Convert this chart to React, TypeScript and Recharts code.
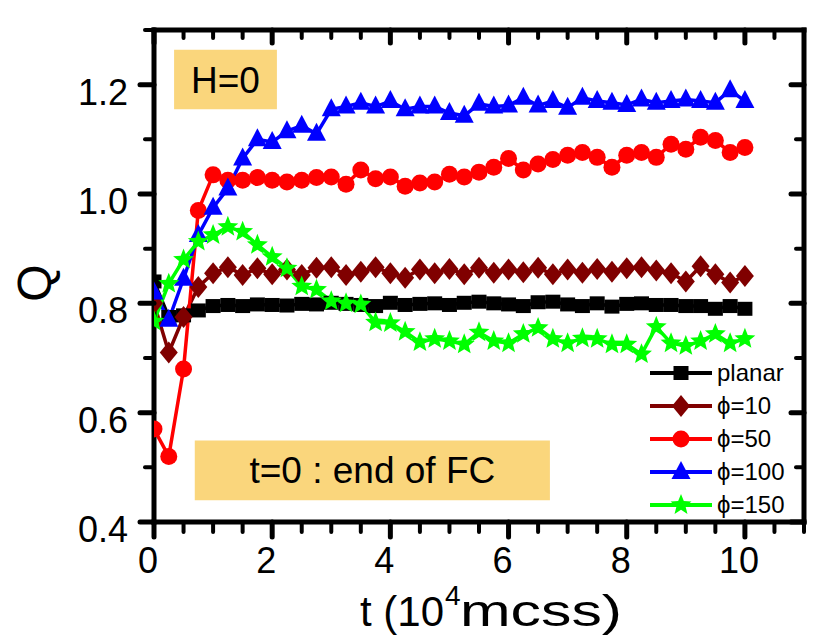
import { Label, Legend, Line, LineChart, ReferenceArea, XAxis, YAxis } from "recharts"

const FONT = '"Liberation Sans", Arial, sans-serif'

// time in units of 10^4 mcss
const tValues = [
  0, 0.25, 0.5, 0.75, 1, 1.25, 1.5, 1.75, 2, 2.25, 2.5, 2.75, 3, 3.25, 3.5, 3.75, 4, 4.25, 4.5, 4.75, 5,
  5.25, 5.5, 5.75, 6, 6.25, 6.5, 6.75, 7, 7.25, 7.5, 7.75, 8, 8.25, 8.5, 8.75, 9, 9.25, 9.5, 9.75, 10,
]

const planar = [
  0.84, 0.775, 0.778, 0.787, 0.795, 0.797, 0.795, 0.798, 0.797, 0.796, 0.799, 0.798, 0.801, 0.799, 0.797,
  0.795, 0.801, 0.797, 0.799, 0.8, 0.797, 0.801, 0.803, 0.8, 0.798, 0.795, 0.802, 0.803, 0.798, 0.795, 0.8,
  0.794, 0.799, 0.8, 0.797, 0.797, 0.795, 0.795, 0.79, 0.795, 0.79,
]
const phi10 = [
  0.8, 0.71, 0.775, 0.83, 0.855, 0.866, 0.852, 0.864, 0.853, 0.862, 0.852, 0.865, 0.866, 0.852, 0.858,
  0.866, 0.855, 0.847, 0.862, 0.855, 0.863, 0.853, 0.865, 0.856, 0.862, 0.857, 0.865, 0.853, 0.862, 0.856,
  0.863, 0.858, 0.864, 0.866, 0.86, 0.855, 0.84, 0.868, 0.853, 0.838, 0.85,
]
const phi50 = [
  0.57, 0.52, 0.68, 0.97, 1.035, 1.025, 1.025, 1.03, 1.025, 1.022, 1.025, 1.03, 1.031, 1.018, 1.044, 1.028,
  1.031, 1.014, 1.02, 1.022, 1.036, 1.031, 1.04, 1.049, 1.065, 1.044, 1.055, 1.063, 1.071, 1.076, 1.067,
  1.049, 1.071, 1.076, 1.067, 1.091, 1.082, 1.104, 1.098, 1.076, 1.085,
]
const phi100 = [
  0.82, 0.77, 0.845, 0.925, 0.975, 1.01, 1.065, 1.1, 1.095, 1.115, 1.125, 1.11, 1.155, 1.16, 1.167, 1.16,
  1.17, 1.155, 1.16, 1.16, 1.148, 1.143, 1.165, 1.16, 1.162, 1.176, 1.162, 1.17, 1.158, 1.176, 1.17, 1.167,
  1.163, 1.173, 1.167, 1.17, 1.173, 1.17, 1.167, 1.19, 1.17,
]
const phi150 = [
  0.767, 0.836, 0.88, 0.913, 0.925, 0.94, 0.931, 0.907, 0.885, 0.864, 0.831, 0.825, 0.804, 0.8, 0.798,
  0.765, 0.764, 0.748, 0.729, 0.735, 0.731, 0.725, 0.747, 0.731, 0.727, 0.744, 0.755, 0.735, 0.727, 0.736,
  0.735, 0.725, 0.725, 0.707, 0.757, 0.727, 0.722, 0.731, 0.744, 0.727, 0.735,
]

const xTicks = [0, 0.5, 1, 1.5, 2, 2.5, 3, 3.5, 4, 4.5, 5, 5.5, 6, 6.5, 7, 7.5, 8, 8.5, 9, 9.5, 10, 10.5, 11]
const xMajor = [0, 2, 4, 6, 8, 10]
const yTicks = [0.4, 0.5, 0.6, 0.7, 0.8, 0.9, 1.0, 1.1, 1.2, 1.3]
const yMajor = [0.4, 0.6, 0.8, 1.0, 1.2]

type Shape = "square" | "diamond" | "circle" | "triangle" | "star"

const series: { key: string; name: string; color: string; shape: Shape }[] = [
  { key: "planar", name: "planar", color: "#000000", shape: "square" },
  { key: "phi10", name: "ϕ=10", color: "#800000", shape: "diamond" },
  { key: "phi50", name: "ϕ=50", color: "#ff0000", shape: "circle" },
  { key: "phi100", name: "ϕ=100", color: "#0000ff", shape: "triangle" },
  { key: "phi150", name: "ϕ=150", color: "#00ff00", shape: "star" },
]

const data = tValues.map((t, i) => ({
  t,
  planar: planar[i],
  phi10: phi10[i],
  phi50: phi50[i],
  phi100: phi100[i],
  phi150: phi150[i],
}))

function isMajor(v: number, list: number[]) {
  return list.some((m) => Math.abs(m - v) < 1e-6)
}

function Marker({ shape, cx, cy, color }: { shape: Shape; cx: number; cy: number; color: string }) {
  if (cx == null || cy == null) return null
  if (shape === "square") return <rect x={cx - 7.5} y={cy - 7} width={15} height={14} fill={color} />
  if (shape === "diamond")
    return <polygon points={`${cx},${cy - 11} ${cx + 9},${cy} ${cx},${cy + 11} ${cx - 9},${cy}`} fill={color} />
  if (shape === "circle") return <circle cx={cx} cy={cy} r={8.5} fill={color} />
  if (shape === "triangle")
    return <polygon points={`${cx},${cy - 11} ${cx + 9.5},${cy + 7} ${cx - 9.5},${cy + 7}`} fill={color} />
  const pts: string[] = []
  for (let k = 0; k < 10; k++) {
    const r = k % 2 === 0 ? 11 : 4.8
    const a = -Math.PI / 2 + (k * Math.PI) / 5
    pts.push(`${cx + r * Math.cos(a)},${cy + r * Math.sin(a)}`)
  }
  return <polygon points={pts.join(" ")} fill={color} />
}

function BottomTick(props: any) {
  const { x, y, payload } = props
  const major = isMajor(payload.value, xMajor)
  return (
    <g>
      <line x1={x} x2={x} y1={y} y2={y + (major ? 15 : 10)} stroke="#000" strokeWidth={major ? 5 : 4} strokeLinecap="round" />
      {major && (
        <text x={x - 6} y={y + 51} textAnchor="middle" fontSize={36} fontFamily={FONT} fill="#000">
          {payload.value}
        </text>
      )}
    </g>
  )
}

function TopTick(props: any) {
  const { x, y, payload } = props
  const major = isMajor(payload.value, xMajor)
  return <line x1={x} x2={x} y1={y} y2={y + (major ? 13 : 8)} stroke="#000" strokeWidth={major ? 5 : 4} strokeLinecap="round" />
}

function LeftTick(props: any) {
  const { x, y, payload } = props
  const major = isMajor(payload.value, yMajor)
  return (
    <g>
      <line x1={x} x2={x - (major ? 14 : 9)} y1={y} y2={y} stroke="#000" strokeWidth={major ? 5 : 4} strokeLinecap="round" />
      {major && (
        <text x={x - 26} y={y + 20} textAnchor="end" fontSize={36} fontFamily={FONT} fill="#000">
          {Number(payload.value).toFixed(1)}
        </text>
      )}
    </g>
  )
}

function RightTick(props: any) {
  const { x, y, payload } = props
  const major = isMajor(payload.value, yMajor)
  return <line x1={x} x2={x - (major ? 13 : 8)} y1={y} y2={y} stroke="#000" strokeWidth={major ? 5 : 4} strokeLinecap="round" />
}

function LegendBox() {
  return (
    <svg width={170} height={170}>
      {series.map((s, i) => {
        const cy = 16 + i * 33
        return (
          <g key={s.key}>
            <line x1={0} x2={62} y1={cy} y2={cy} stroke={s.color} strokeWidth={4} />
            <Marker shape={s.shape} cx={31} cy={cy} color={s.color} />
            <text x={67} y={cy + 8} fontSize={24} fontFamily={FONT} fill="#000">
              {s.name}
            </text>
          </g>
        )
      })}
    </svg>
  )
}

const frame = { stroke: "#000", strokeWidth: 5, strokeLinecap: "square" as const }

export default function App() {
  return (
    <LineChart width={814} height={627} data={data} margin={{ top: 21, right: 17, bottom: 0, left: 0 }}>
      <XAxis
        dataKey="t"
        type="number"
        domain={[0, 11]}
        allowDataOverflow
        ticks={xTicks}
        interval={0}
        height={113}
        tickSize={0}
        tickMargin={0}
        axisLine={frame}
        tickLine={false}
        tick={BottomTick}
        label={
          <Label
            content={() => (
              <g fontFamily={FONT} fill="#000">
                <text x={352} y={618} fontSize={42}>
                  t (10
                </text>
                <text x={437} y={597} fontSize={28}>
                  4
                </text>
                <text x={452} y={618} fontSize={44} textLength={162} lengthAdjust="spacingAndGlyphs">
                  mcss)
                </text>
              </g>
            )}
          />
        }
      />
      <XAxis
        xAxisId="top"
        dataKey="t"
        orientation="top"
        type="number"
        domain={[0, 11]}
        allowDataOverflow
        ticks={xTicks}
        interval={0}
        height={1}
        tickSize={0}
        tickMargin={0}
        axisLine={frame}
        tickLine={false}
        tick={TopTick}
      />
      <YAxis
        type="number"
        domain={[0.4, 1.3]}
        allowDataOverflow
        ticks={yTicks}
        interval={0}
        width={146}
        tickSize={0}
        tickMargin={0}
        axisLine={frame}
        tickLine={false}
        tick={LeftTick}
        label={
          <Label
            content={() => (
              <text
                x={26}
                y={275}
                transform="rotate(-90, 26, 275)"
                textAnchor="middle"
                dominantBaseline="central"
                fontSize={48}
                fontFamily={FONT}
                fill="#000"
              >
                Q
              </text>
            )}
          />
        }
      />
      <YAxis
        yAxisId="right"
        orientation="right"
        type="number"
        domain={[0.4, 1.3]}
        allowDataOverflow
        ticks={yTicks}
        interval={0}
        width={1}
        tickSize={0}
        tickMargin={0}
        axisLine={frame}
        tickLine={false}
        tick={RightTick}
      />
      <ReferenceArea
        x1={0.34}
        x2={2.08}
        y1={1.155}
        y2={1.264}
        fill="#fad67c"
        fillOpacity={1}
        stroke="none"
        label={{ value: "H=0", position: "center", fontSize: 37, fontFamily: FONT, fill: "#000" }}
      />
      <ReferenceArea
        x1={0.69}
        x2={6.7}
        y1={0.44}
        y2={0.549}
        fill="#fad67c"
        fillOpacity={1}
        stroke="none"
        label={{ value: "t=0 : end of FC", position: "center", fontSize: 37, fontFamily: FONT, fill: "#000" }}
      />
      {/* invisible series so the mirrored top/right axes get a scale */}
      <Line
        xAxisId="top"
        yAxisId="right"
        dataKey="planar"
        stroke="none"
        dot={false}
        activeDot={false}
        legendType="none"
        isAnimationActive={false}
      />
      {series.map((s) => (
        <Line
          key={s.key}
          dataKey={s.key}
          name={s.name}
          type="linear"
          stroke={s.color}
          strokeWidth={3.5}
          dot={(p: any) => <Marker key={`${s.key}-${p.index}`} shape={s.shape} cx={p.cx} cy={p.cy} color={s.color} />}
          activeDot={false}
          isAnimationActive={false}
        />
      ))}
      <Legend
        layout="vertical"
        align="center"
        verticalAlign="middle"
        content={LegendBox}
        wrapperStyle={{ left: 642, top: 349, width: 170, height: 170 }}
      />
    </LineChart>
  )
}
